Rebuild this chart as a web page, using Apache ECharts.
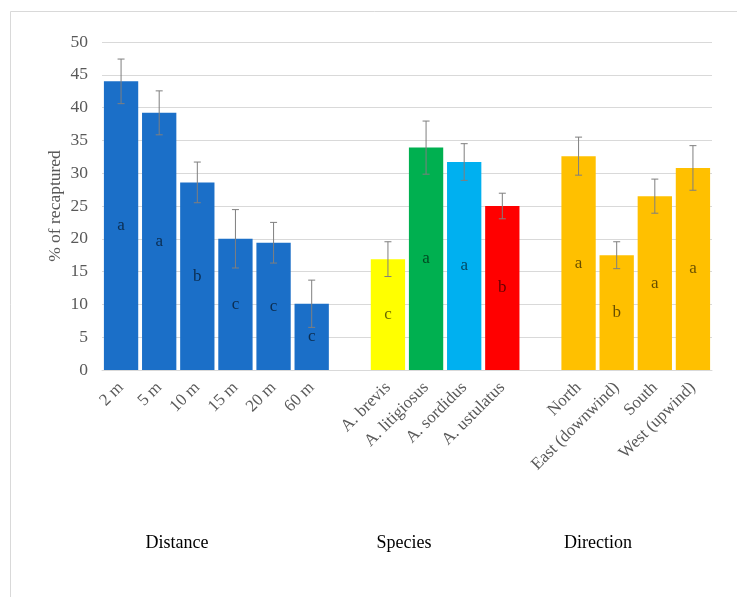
<!DOCTYPE html>
<html>
<head>
<meta charset="utf-8">
<script src="https://cdn.jsdelivr.net/npm/echarts@6/dist/echarts.min.js"></script>
<style>
  html, body { margin: 0; padding: 0; background: #fff; }
  #chart { width: 737px; height: 597px; }
</style>
</head>
<body>
<div id="chart"></div>
<script>
// categories (empty slots separate the three groups)
var categories = ['2 m', '5 m', '10 m', '15 m', '20 m', '60 m', '',
  'A. brevis', 'A. litigiosus', 'A. sordidus', 'A. ustulatus', ' ',
  'North', 'East (downwind)', 'South', 'West (upwind)']
var values = [44.0, 39.2, 28.6, 20.0, 19.4, 10.1, null, 16.9, 33.9, 31.7, 25.0, null, 32.6, 17.5, 26.5, 30.8]
var errors = [3.4, 3.35, 3.1, 4.45, 3.1, 3.6, null, 2.65, 4.05, 2.8, 1.95, null, 2.9, 2.05, 2.6, 3.4]
var letters = ['a', 'a', 'b', 'c', 'c', 'c', '', 'c', 'a', 'a', 'b', '', 'a', 'b', 'a', 'a']
var barColors = ['#1b6fc8', '#1b6fc8', '#1b6fc8', '#1b6fc8', '#1b6fc8', '#1b6fc8', null,
  '#ffff00', '#00b050', '#00b0f0', '#ff0000', null,
  '#ffc000', '#ffc000', '#ffc000', '#ffc000']
var groupNames = ['Distance', 'Species', 'Direction']
var yTicks = { min: 0, max: 50, interval: 5 }

var serif = '"Liberation Serif", "Times New Roman", serif'
var chart = echarts.init(document.getElementById('chart'))

var barData = []
for (var i = 0; i < values.length; i++) {
  if (values[i] === null) {
    barData.push('-')
  } else {
    barData.push({ value: values[i], itemStyle: { color: barColors[i] } })
  }
}
var errData = []
for (var j = 0; j < values.length; j++) {
  if (values[j] !== null) {
    errData.push([j, values[j] - errors[j], values[j] + errors[j]])
  }
}

// group captions under the axis
var groupX = [177, 404, 598]
var captions = groupNames.map(function(name, k) {
  return {
    type: 'text',
    x: groupX[k],
    y: 543,
    style: { text: name, font: '18px ' + serif, fill: '#000', align: 'center', verticalAlign: 'middle' }
  }
})

var option = {
  backgroundColor: '#fff',
  animation: false,
  grid: { left: 102, right: 25, top: 42, bottom: 227 },
  graphic: [
    { type: 'rect', shape: { x: 10.5, y: 11.5, width: 760, height: 620 }, style: { fill: 'none', stroke: '#d9d9d9', lineWidth: 1 }, silent: true }
  ].concat(captions),
  xAxis: {
    type: 'category',
    data: categories,
    axisLine: { lineStyle: { color: '#d9d9d9' } },
    axisTick: { show: false },
    axisLabel: {
      interval: 0,
      rotate: 45,
      margin: 15,
      color: '#595959',
      fontFamily: serif,
      fontSize: 17
    }
  },
  yAxis: {
    type: 'value',
    min: yTicks.min,
    max: yTicks.max,
    interval: yTicks.interval,
    name: '% of recaptured',
    nameLocation: 'middle',
    nameGap: 38,
    nameMoveOverlap: false,
    nameTextStyle: { color: '#595959', fontFamily: serif, fontSize: 17.5 },
    axisLine: { show: false },
    axisTick: { show: false },
    axisLabel: { color: '#595959', fontFamily: serif, fontSize: 17.5, margin: 14 },
    splitLine: { lineStyle: { color: '#d9d9d9' } }
  },
  series: [
    {
      type: 'bar',
      data: barData,
      barCategoryGap: '10%',
      label: {
        show: true,
        position: 'inside',
        formatter: function(p) { return letters[p.dataIndex] },
        color: 'rgba(0,0,0,0.6)',
        fontFamily: serif,
        fontSize: 17
      }
    },
    {
      type: 'custom',
      data: errData,
      z: 10,
      renderItem: function(params, api) {
        var x = api.value(0)
        var lo = api.coord([x, api.value(1)])
        var hi = api.coord([x, api.value(2)])
        var w = 3.5
        var st = { stroke: '#7f7f7f', lineWidth: 1 }
        return {
          type: 'group',
          children: [
            { type: 'line', shape: { x1: lo[0], y1: lo[1], x2: hi[0], y2: hi[1] }, style: st },
            { type: 'line', shape: { x1: lo[0] - w, y1: lo[1], x2: lo[0] + w, y2: lo[1] }, style: st },
            { type: 'line', shape: { x1: hi[0] - w, y1: hi[1], x2: hi[0] + w, y2: hi[1] }, style: st }
          ]
        }
      }
    }
  ]
}
chart.setOption(option)
window.addEventListener('resize', function() {
  chart.resize()
})
</script>
</body>
</html>
